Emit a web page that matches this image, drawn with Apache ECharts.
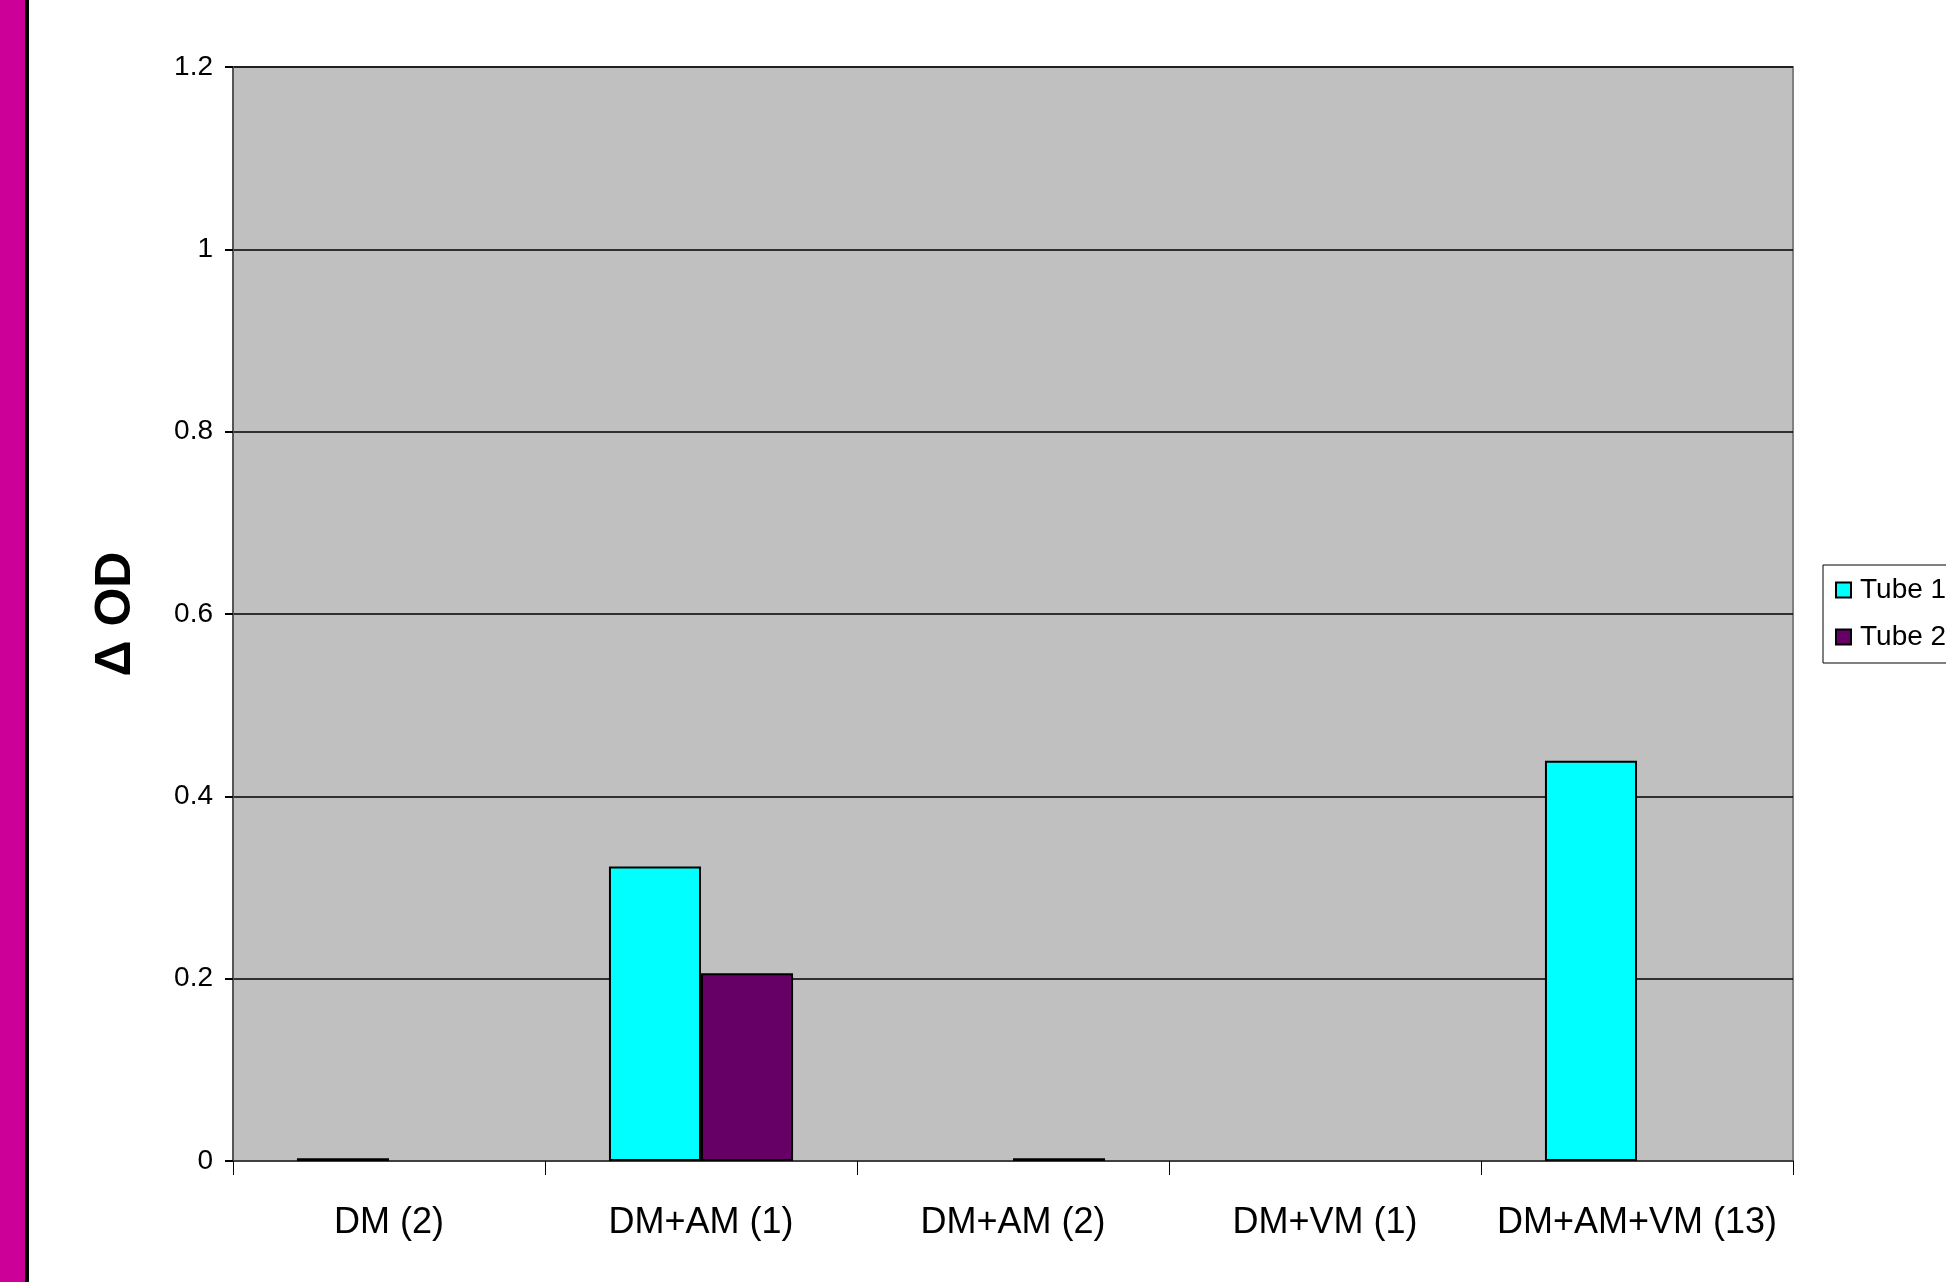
<!DOCTYPE html>
<html>
<head>
<meta charset="utf-8">
<script src="https://cdn.jsdelivr.net/npm/echarts@6/dist/echarts.min.js"></script>
<style>
  html, body { margin: 0; padding: 0; background: #fff; }
  #chart { width: 1946px; height: 1282px; }
</style>
</head>
<body>
<div id="chart"></div>
<script>
const categories = ['DM (2)', 'DM+AM (1)', 'DM+AM (2)', 'DM+VM (1)', 'DM+AM+VM (13)'];
const tube1 = [0.003, 0.323, null, null, 0.439];
const tube2 = [null, 0.206, 0.003, null, null];
const yTicks = { min: 0, max: 1.2, interval: 0.2 };

const chart = echarts.init(document.getElementById('chart'));
const font = '"Liberation Sans", Arial, sans-serif';

chart.setOption({
  backgroundColor: '#fff',
  animation: false,
  textStyle: { fontFamily: font, color: '#000' },
  graphic: [
    // magenta slide strip on the left
    { type: 'rect', left: 0, top: 0, shape: { width: 25, height: 1282 }, style: { fill: '#CC0099' } },
    { type: 'rect', left: 25, top: 0, shape: { width: 4, height: 1282 }, style: { fill: '#000' } }
  ],
  grid: {
    left: 233, right: 153, top: 67, bottom: 121,
    show: true,
    backgroundColor: '#C0C0C0',
    borderColor: '#808080',
    borderWidth: 2
  },
  legend: {
    orient: 'vertical',
    left: 1823,
    top: 565,
    data: ['Tube 1', 'Tube 2'],
    icon: 'rect',
    itemWidth: 15,
    itemHeight: 15,
    itemGap: 19,
    padding: [11, 14, 12, 12],
    borderColor: '#000',
    borderWidth: 1,
    backgroundColor: '#fff',
    textStyle: { fontFamily: font, fontSize: 28, color: '#000', padding: [0, 0, 0, 4] }
  },
  xAxis: {
    type: 'category',
    data: categories,
    axisLine: { lineStyle: { color: '#404040', width: 2 } },
    axisTick: { show: true, interval: 0, length: 14, lineStyle: { color: '#000', width: 1 } },
    axisLabel: { interval: 0, fontFamily: font, fontSize: 36, color: '#000', margin: 44 },
    splitLine: { show: false }
  },
  yAxis: {
    type: 'value',
    min: yTicks.min,
    max: yTicks.max,
    interval: yTicks.interval,
    name: 'Δ OD',
    nameLocation: 'middle',
    nameGap: 92,
    nameRotate: 90,
    nameTextStyle: { fontFamily: font, fontSize: 50, fontWeight: 'bold', color: '#000' },
    axisLine: { show: true, lineStyle: { color: '#555', width: 2 } },
    axisTick: { show: true, length: 8, lineStyle: { color: '#000', width: 2 } },
    axisLabel: { fontFamily: font, fontSize: 28, color: '#000', margin: 20 },
    splitLine: { show: true, lineStyle: { color: '#000', width: 1.5 } }
  },
  series: [
    {
      name: 'Tube 1',
      type: 'bar',
      data: tube1,
      barGap: '0%',
      barCategoryGap: '41%',
      itemStyle: { color: '#00FFFF', borderColor: '#000', borderWidth: 2 }
    },
    {
      name: 'Tube 2',
      type: 'bar',
      data: tube2,
      itemStyle: { color: '#660066', borderColor: '#000', borderWidth: 2 }
    }
  ]
});
</script>
</body>
</html>
